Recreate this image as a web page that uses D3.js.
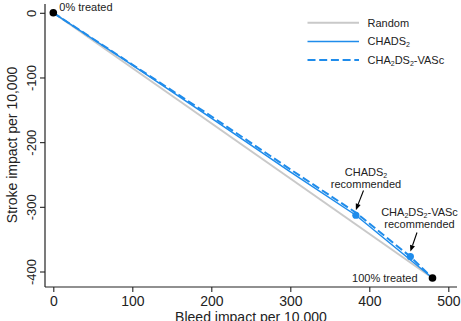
<!DOCTYPE html>
<html>
<head>
<meta charset="utf-8">
<script src="https://cdn.jsdelivr.net/npm/d3@7"></script>
<style>
  html, body { margin: 0; padding: 0; background: #fff; }
  svg { display: block; font-family: "Liberation Sans", Arial, Helvetica, sans-serif; }
</style>
</head>
<body>
<svg id="chart" width="461" height="321"></svg>
<script>
// Cumulative bleed vs stroke impact per 10,000 as treatment is extended
const randomBleed   = [0, 480];
const randomStroke  = [0, -410];

const chadsBleed    = [0, 100, 200, 300, 383, 480];
const chadsStroke   = [0, -81, -163, -246, -313, -410];

const vascBleed     = [0, 100, 200, 300, 383, 452, 480];
const vascStroke    = [0, -80, -160, -242, -309, -377, -410];

// Recommended-threshold points and end points
const endBleed      = [0, 480];
const endStroke     = [0, -410];
const recBleed      = [383, 452];
const recStroke     = [-313, -377];

const xTicks = [0, 100, 200, 300, 400, 500];
const yTicks = [0, -100, -200, -300, -400];

const blue = "#1f8ceb";
const gray = "#c9c9c9";

const svg = d3.select("#chart");

const x = d3.scaleLinear().domain([0, 500]).range([53.3, 448.3]);
const y = d3.scaleLinear().domain([0, -400]).range([12.8, 271.5]);

const zip = (a, b) => a.map((v, i) => [v, b[i]]);
const line = d3.line().x(d => x(d[0])).y(d => y(d[1]));

// Axis frame
const axisX0 = 45, axisY0 = 287;
svg.append("line").attr("x1", axisX0).attr("x2", axisX0).attr("y1", 4).attr("y2", axisY0)
  .attr("stroke", "#222").attr("stroke-width", 1.2);
svg.append("line").attr("x1", axisX0).attr("x2", 457).attr("y1", axisY0).attr("y2", axisY0)
  .attr("stroke", "#222").attr("stroke-width", 1.2);

// X axis
const gx = svg.append("g").attr("transform", `translate(0,${axisY0})`)
  .call(d3.axisBottom(x).tickValues(xTicks).tickSize(5).tickPadding(4).tickFormat(d3.format("d")));
gx.select(".domain").remove();
gx.selectAll(".tick line").attr("stroke", "#222").attr("stroke-width", 1.1);
gx.selectAll(".tick text").attr("font-size", 14).attr("fill", "#222")
  .attr("font-family", "Liberation Sans, Arial, sans-serif");

// Y axis with vertical tick labels
const gy = svg.append("g").attr("transform", `translate(${axisX0},0)`)
  .call(d3.axisLeft(y).tickValues(yTicks).tickSize(5).tickFormat(d3.format("d")));
gy.select(".domain").remove();
gy.selectAll(".tick line").attr("stroke", "#222").attr("stroke-width", 1.1);
gy.selectAll(".tick text")
  .attr("x", null).attr("dy", null)
  .attr("transform", "translate(-9.5,0) rotate(-90)")
  .attr("text-anchor", "middle")
  .attr("font-size", 13).attr("fill", "#222")
  .attr("font-family", "Liberation Sans, Arial, sans-serif")
  .text(d => String(d).replace("−", "-"));

// Axis titles
svg.append("text").attr("x", 251).attr("y", 322).attr("text-anchor", "middle")
  .attr("font-size", 14).attr("fill", "#222").text("Bleed impact per 10,000");
svg.append("text").attr("transform", "translate(17,145) rotate(-90)").attr("text-anchor", "middle")
  .attr("font-size", 14).attr("fill", "#222").text("Stroke impact per 10,000");

// Curves
svg.append("path").datum(zip(randomBleed, randomStroke)).attr("d", line)
  .attr("fill", "none").attr("stroke", gray).attr("stroke-width", 2);
svg.append("path").datum(zip(chadsBleed, chadsStroke)).attr("d", line)
  .attr("fill", "none").attr("stroke", blue).attr("stroke-width", 1.5);
svg.append("path").datum(zip(vascBleed, vascStroke)).attr("d", line)
  .attr("fill", "none").attr("stroke", blue).attr("stroke-width", 2)
  .attr("stroke-dasharray", "8,3.5");

// Points
svg.selectAll("circle.rec").data(zip(recBleed, recStroke)).join("circle").attr("class", "rec")
  .attr("cx", d => x(d[0])).attr("cy", d => y(d[1])).attr("r", 3.6).attr("fill", blue);
svg.selectAll("circle.end").data(zip(endBleed, endStroke)).join("circle").attr("class", "end")
  .attr("cx", d => x(d[0])).attr("cy", d => y(d[1])).attr("r", 3.8).attr("fill", "#000");

// Annotations
const ann = svg.append("g").attr("font-size", 11).attr("fill", "#222");
ann.append("text").attr("x", x(endBleed[0]) + 6).attr("y", y(endStroke[0]) - 2).text("0% treated");
ann.append("text").attr("x", x(endBleed[1]) - 15).attr("y", y(endStroke[1]) + 4)
  .attr("text-anchor", "end").text("100% treated");

// Text with subscript parts, e.g. CHA2DS2-VASc
function sub(textSel, parts) {
  parts.forEach(p => {
    const ts = textSel.append("tspan").text(p.t);
    if (p.sub) ts.attr("font-size", 7).attr("baseline-shift", -1.8);
  });
}

function callout(bx, by, lines, cx, lineY, tip) {
  lines.forEach((parts, i) => {
    const t = ann.append("text").attr("x", cx).attr("y", lineY + i * 12).attr("text-anchor", "middle");
    sub(t, parts);
  });
  // arrow from below the text to just above the point
  const x1 = tip[0], y1 = tip[1];
  const x2 = x(bx), y2 = y(by) - 5;
  const ang = Math.atan2(y2 - y1, x2 - x1);
  const hl = 6.5, hw = 2.6;
  const bxp = x2 - hl * Math.cos(ang), byp = y2 - hl * Math.sin(ang);
  ann.append("line").attr("x1", x1).attr("y1", y1).attr("x2", bxp).attr("y2", byp)
    .attr("stroke", "#000").attr("stroke-width", 1.1);
  ann.append("path")
    .attr("d", `M${x2},${y2}L${bxp + hw * Math.sin(ang)},${byp - hw * Math.cos(ang)}L${bxp - hw * Math.sin(ang)},${byp + hw * Math.cos(ang)}Z`)
    .attr("fill", "#000");
}

callout(recBleed[0], recStroke[0],
  [[{t: "CHADS"}, {t: "2", sub: true}], [{t: "recommended"}]],
  366, 176, [363.5, 190.5]);
callout(recBleed[1], recStroke[1],
  [[{t: "CHA"}, {t: "2", sub: true}, {t: "DS"}, {t: "2", sub: true}, {t: "-VASc"}], [{t: "recommended"}]],
  419.5, 216, [417, 232.5]);

// Legend
const leg = svg.append("g").attr("font-size", 11).attr("fill", "#222");
const legRows = [
  {parts: [{t: "Random"}], stroke: gray, w: 2, dash: null},
  {parts: [{t: "CHADS"}, {t: "2", sub: true}], stroke: blue, w: 1.5, dash: null},
  {parts: [{t: "CHA"}, {t: "2", sub: true}, {t: "DS"}, {t: "2", sub: true}, {t: "-VASc"}], stroke: blue, w: 2, dash: "8,3.7"}
];
legRows.forEach((r, i) => {
  const ly = 22.7 + i * 18.7;
  leg.append("line").attr("x1", 307.5).attr("x2", 359).attr("y1", ly).attr("y2", ly)
    .attr("stroke", r.stroke).attr("stroke-width", r.w).attr("stroke-dasharray", r.dash);
  const t = leg.append("text").attr("x", 367.5).attr("y", ly + 4);
  sub(t, r.parts);
});
</script>
</body>
</html>
